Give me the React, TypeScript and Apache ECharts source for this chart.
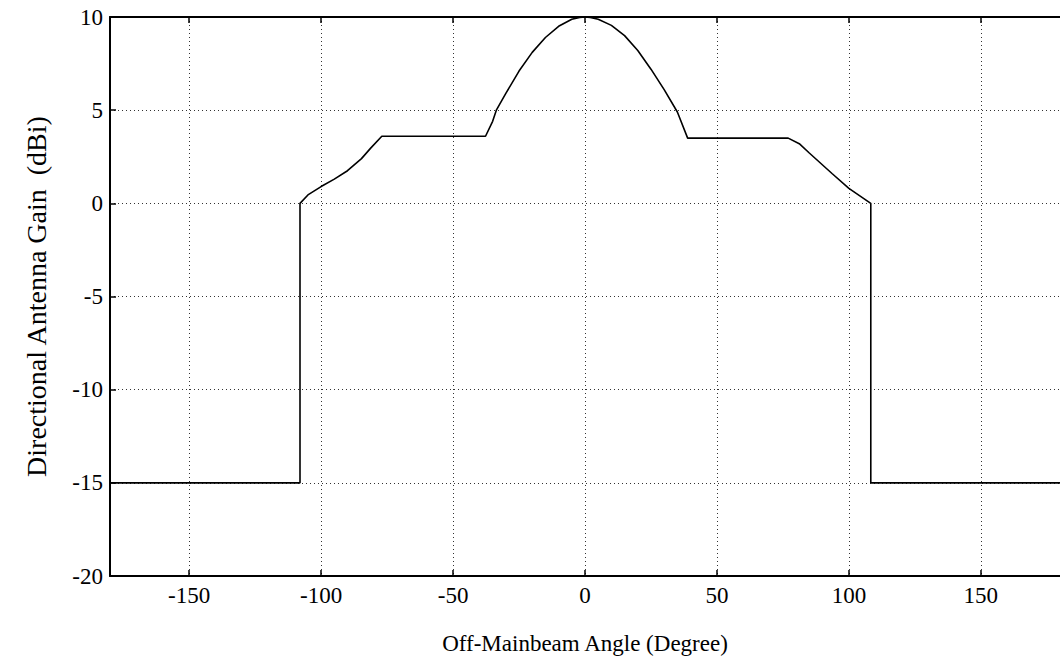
import React, { useEffect, useRef } from "react";
import * as echarts from "echarts";

// Angle (degrees) and gain (dBi)
const angles = [
  -180, -108, -108, -105, -100, -95, -90, -84.7, -81.3, -77, -37.7,
  -35, -33.6, -30, -25, -20, -15, -10, -5, -2, 0, 2, 5, 10, 15, 20, 25, 30, 35, 38.9,
  77, 81.2, 85, 93.6, 100, 108.3, 108.3, 180,
];
const gains = [
  -15, -15, 0, 0.45, 0.9, 1.3, 1.75, 2.4, 2.95, 3.6, 3.6,
  4.4, 5.0, 5.9, 7.1, 8.1, 8.9, 9.5, 9.88, 9.98, 10, 9.98, 9.88, 9.55, 9.0, 8.2, 7.2, 6.1, 4.9, 3.5,
  3.5, 3.2, 2.7, 1.6, 0.8, 0, -15, -15,
];
const xTicks = [-150, -100, -50, 0, 50, 100, 150];
const xTitle = "Off-Mainbeam Angle (Degree)";
const yTitle = "Directional Antenna Gain  (dBi)";

const FONT = "'Liberation Serif', 'Times New Roman', serif";

export default function App() {
  const ref = useRef<HTMLDivElement>(null);
  useEffect(() => {
    if (!ref.current) return;
    const chart = echarts.init(ref.current, undefined, { renderer: "svg" });
    const axisLine = { show: true, onZero: false, lineStyle: { color: "#000", width: 2 } };
    const splitLine = {
      show: true,
      lineStyle: { color: "#333", width: 1, type: [1, 3] as any },
    };
    const labelStyle = { color: "#000", fontSize: 23, fontFamily: FONT };
    chart.setOption({
      animation: false,
      backgroundColor: "#fff",
      grid: { left: 110, right: 0, top: 17, bottom: 89, containLabel: false },
      xAxis: [
        {
          type: "value",
          position: "bottom",
          min: -180,
          max: 180,
          axisLine,
          axisTick: { show: true, inside: true, length: 6, customValues: xTicks, lineStyle: { color: "#000", width: 1.5 } },
          axisLabel: { ...labelStyle, margin: 8, customValues: xTicks },
          splitLine,
          name: xTitle,
          nameLocation: "middle",
          nameGap: 56,
          nameTextStyle: { color: "#000", fontSize: 23, fontFamily: FONT },
        },
        {
          type: "value",
          position: "top",
          min: -180,
          max: 180,
          axisLine,
          axisTick: { show: true, inside: true, length: 6, customValues: xTicks, lineStyle: { color: "#000", width: 1.5 } },
          axisLabel: { show: false },
          splitLine: { show: false },
        },
      ],
      yAxis: [
        {
          type: "value",
          position: "left",
          min: -20,
          max: 10,
          interval: 5,
          axisLine,
          axisTick: { show: true, inside: true, length: 6, lineStyle: { color: "#000", width: 1.5 } },
          axisLabel: { ...labelStyle, margin: 7 },
          splitLine,
          name: yTitle,
          nameLocation: "middle",
          nameGap: 60,
          nameRotate: 90,
          nameTextStyle: { color: "#000", fontSize: 28, fontFamily: FONT },
        },
      ],
      series: [
        {
          type: "line",
          xAxisIndex: 0,
          yAxisIndex: 0,
          data: angles.map((a, i) => [a, gains[i]]),
          showSymbol: false,
          symbol: "none",
          smooth: false,
          lineStyle: { color: "#000", width: 1.6 },
        },
      ],
    });
    return () => chart.dispose();
  }, []);
  return (
    <div
      ref={ref}
      style={{ position: "fixed", left: 0, top: 0, width: 1060, height: 665, background: "#fff" }}
    />
  );
}
